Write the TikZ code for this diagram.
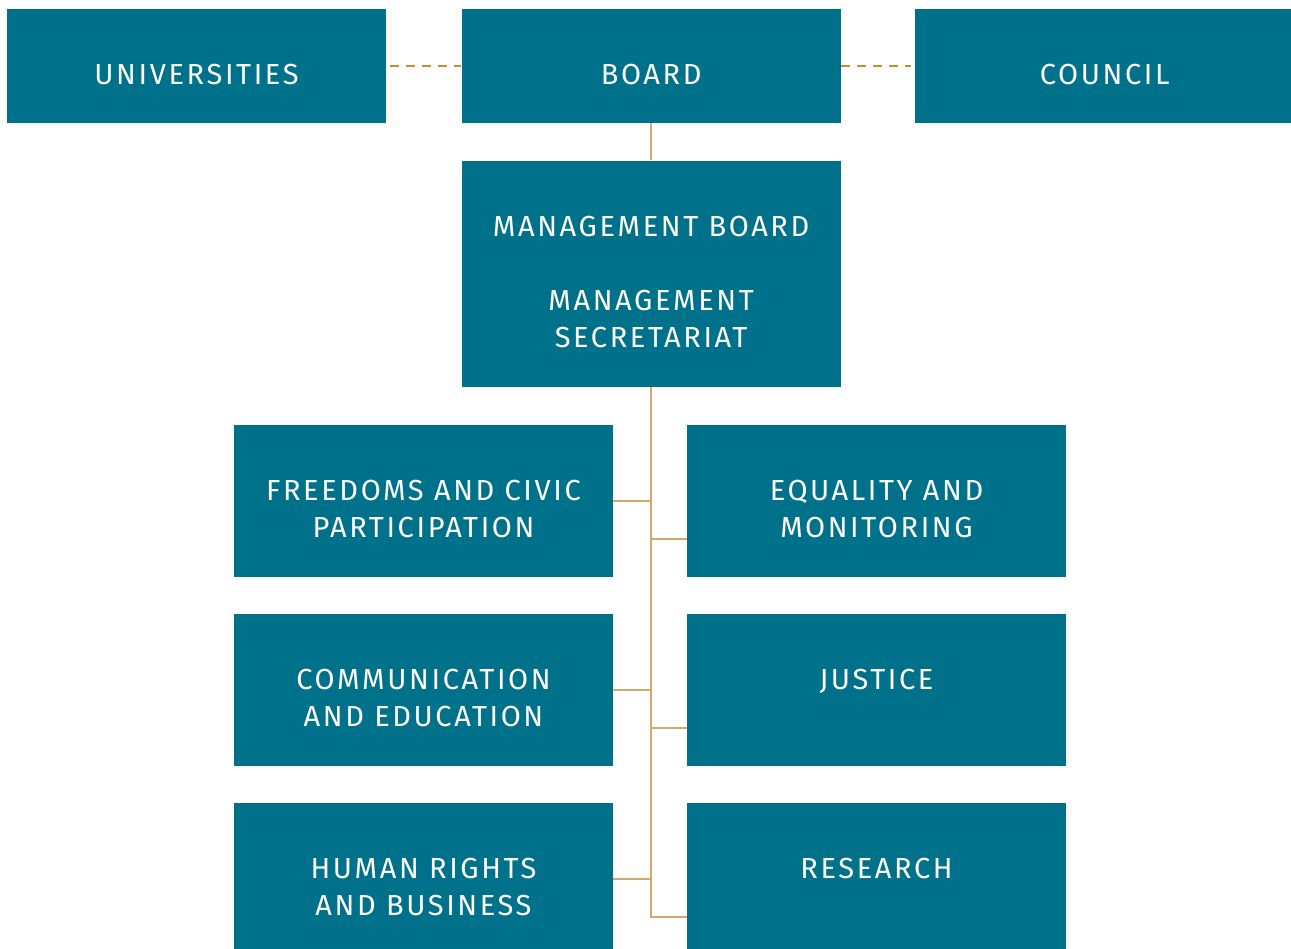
\documentclass[tikz,border=0pt]{standalone}
\usepackage{fontspec}
\setmainfont[LetterSpace=9]{Fira Sans}
\usepackage{tikz}
\usetikzlibrary{positioning}
\usetikzlibrary{calc}
\definecolor{diagramteal}{RGB}{0,113,138}
\definecolor{diagramgold}{RGB}{206,170,108}
\definecolor{diagramdash}{RGB}{191,141,54}
\newcommand{\boxtext}[1]{\raisebox{-6.2pt}[\height][\depth]{\begin{tabular}{@{}c@{}}#1\end{tabular}}}

\begin{document}
\begin{tikzpicture}[x=0.02cm, y=-0.02cm, every node/.style={align=center, text=white, font=\fontsize{16.5}{21}\selectfont},
    unitbox/.style={fill=diagramteal, inner sep=0pt, minimum width=7.58cm, minimum height=3.04cm},
    topbox/.style={unitbox, minimum height=2.28cm},
    branch/.style={draw=diagramgold, line width=1.1pt},
    dashline/.style={draw=diagramdash, line width=1.7pt, dash pattern=on 0.18cm off 0.14cm}]

        \clip (0,0) rectangle (1291,949);
        \useasboundingbox (0,0) rectangle (1291,949);

        % Top row
        \node[topbox] (universities) at (196.5,66) {\boxtext{UNIVERSITIES}};
        \node[topbox, right=1.5cm of universities] (board) {\boxtext{BOARD}};
        \node[topbox, right=1.48cm of board] (council) {\boxtext{COUNCIL}};

        % Management
        \node[unitbox, minimum height=4.52cm, below=0.74cm of board] (management) {%
            \boxtext{MANAGEMENT BOARD \\ \\ MANAGEMENT \\ SECRETARIAT}};

        % Left column
        \node[unitbox] (freedoms) at (423.5,501) {\boxtext{FREEDOMS AND CIVIC \\ PARTICIPATION}};
        \node[unitbox] (communication) at (423.5,690) {\boxtext{COMMUNICATION \\ AND EDUCATION}};
        \node[unitbox] (humanrights) at (423.5,879) {\boxtext{HUMAN RIGHTS \\ AND BUSINESS}};

        % Right column
        \node[unitbox] (equality) at (876.5,501) {\boxtext{EQUALITY AND \\ MONITORING}};
        \node[unitbox] (justice) at (876.5,690) {\boxtext{JUSTICE \\ {}}};
        \node[unitbox] (research) at (876.5,879) {\boxtext{RESEARCH \\ {}}};

        % Connectors
        \draw[dashline, shorten <=0.08cm] (universities.east) -- (board.west);
        \draw[dashline, shorten >=0.08cm] (board.east) -- (council.west);
        \draw[branch] (board.south) -- (management.north);

        \coordinate (researchin) at ($(research.north west)!0.75!(research.south west)$);
        \coordinate (justicein) at ($(justice.north west)!0.75!(justice.south west)$);
        \coordinate (equalityin) at ($(equality.north west)!0.75!(equality.south west)$);
        \draw[branch] (management.south) |- (researchin);
        \draw[branch] (equalityin) -- (equalityin -| management.south);
        \draw[branch] (justicein) -- (justicein -| management.south);
        \draw[branch] (freedoms.east) -- (freedoms.east -| management.south);
        \draw[branch] (communication.east) -- (communication.east -| management.south);
        \draw[branch] (humanrights.east) -- (humanrights.east -| management.south);

    \end{tikzpicture}
\end{document}
